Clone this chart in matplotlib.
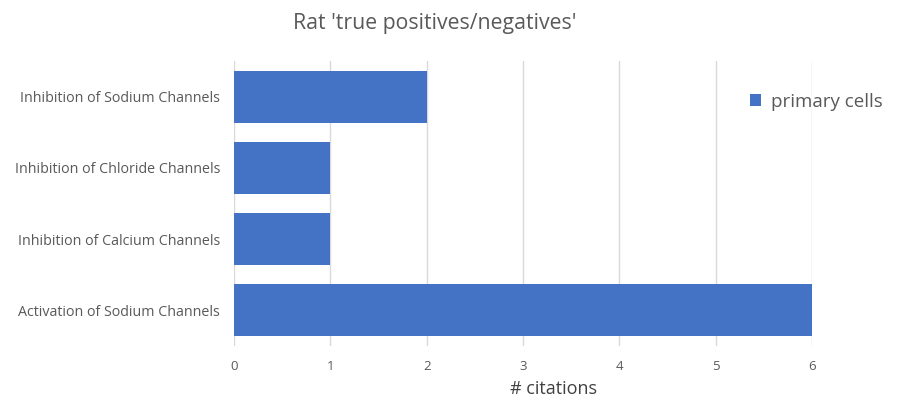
import matplotlib
matplotlib.use("Agg")
import matplotlib.pyplot as plt

categories = ["Activation of Sodium Channels",
              "Inhibition of Calcium Channels",
              "Inhibition of Chloride Channels",
              "Inhibition of Sodium Channels"]
citations = [6, 1, 1, 2]
series_name = "primary cells"
x_ticks = [0, 1, 2, 3, 4, 5, 6]

plt.rcParams['font.family'] = ['Open Sans', 'DejaVu Sans']
text_col = "#595959"
grid_col = "#d9d9d9"
bar_col = "#4472C4"

fig = plt.figure(figsize=(9.04, 3.99), dpi=100)
ax = fig.add_axes([0.2588, 0.1328, 0.6394, 0.7143])

ax.barh(range(len(categories)), citations, height=0.73, color=bar_col,
        label=series_name, zorder=3)
ax.set_ylim(-0.5, len(categories) - 0.5)
ax.set_xlim(0, 6)
ax.set_xticks(x_ticks)
ax.set_yticks(range(len(categories)))
ax.set_yticklabels(categories)
ax.grid(axis="x", color=grid_col, linewidth=1, zorder=0)
for s in ax.spines.values():
    s.set_visible(False)
ax.tick_params(length=0, colors=text_col)
ax.tick_params(axis="x", labelsize=9.5, pad=10)
ax.tick_params(axis="y", labelsize=10.3, pad=10)

ax.set_xlabel("# citations", fontsize=13, color="#404040")
ax.xaxis.label.set_va("center")
ax.xaxis.set_label_coords(0.552, -0.150)
fig.text(0.481, 0.942, "Rat 'true positives/negatives'", fontsize=15.3,
         color=text_col, ha="center", va="center")

leg = ax.legend(loc="center left", bbox_to_anchor=(0.811, 0.745),
                bbox_transform=fig.transFigure, frameon=False,
                fontsize=13.5, handlelength=0.6, handleheight=0.6,
                handletextpad=0.5, labelcolor=text_col)

fig.savefig("out.png", dpi=100)
